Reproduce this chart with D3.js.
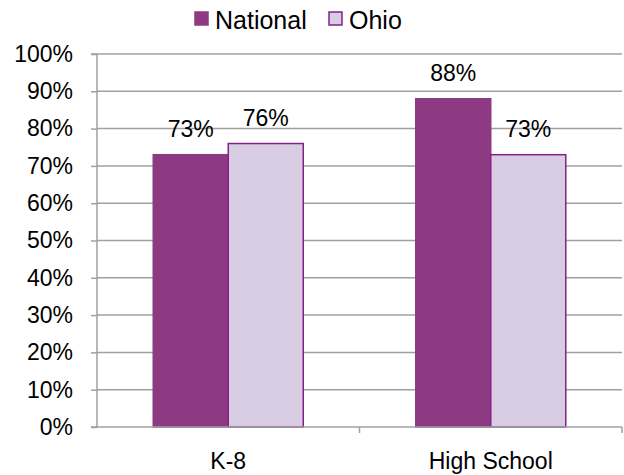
<!DOCTYPE html>
<html><head><meta charset="utf-8">
<script src="https://cdn.jsdelivr.net/npm/d3@7"></script>
<style>body{margin:0;background:#fff}svg{display:block}text{font-family:"Liberation Sans",Arial,sans-serif;fill:#000}</style>
</head><body><svg id="c" width="624" height="475"></svg>
<script>
const categories = ["K-8", "High School"];
const seriesNames = ["National", "Ohio"];
const national = [73, 88];
const ohio = [76, 73];
const yTicks = [0,10,20,30,40,50,60,70,80,90,100];

const svg = d3.select("#c");
const FONT = '"Liberation Sans",Arial,sans-serif';
const m = {l:97, r:622, t:54, b:427};
const x0 = d3.scaleBand().domain(categories).range([m.l, m.r]).paddingInner(0).paddingOuter(0);
const x1 = d3.scaleBand().domain(seriesNames).range([0, x0.bandwidth()]).paddingInner(0).paddingOuter(0.75);
const y = d3.scaleLinear().domain([0,100]).range([m.b, m.t]);
const fills = {National:"#8E3A82", Ohio:"#D7CCE1"};
const strokes = {National:"#8E3A82", Ohio:"#85208A"};
const gridCol = "#A0A0A0";

// gridlines
svg.append("g").selectAll("line").data(yTicks.filter(d=>d>0)).join("line")
  .attr("x1", m.l).attr("x2", m.r).attr("y1", d=>y(d)).attr("y2", d=>y(d))
  .attr("stroke", gridCol).attr("stroke-width", 1.5);

// y axis
const ya = svg.append("g").attr("transform", `translate(${m.l},0)`)
  .call(d3.axisLeft(y).tickValues(yTicks).tickFormat(d=>d+"%").tickSize(6).tickPadding(18));
ya.select(".domain").attr("stroke", gridCol).attr("stroke-width",1.5).attr("d", `M-6,${m.t}H0V${m.b}H-6`);
ya.selectAll(".tick line").attr("stroke", gridCol).attr("stroke-width",1.5);
ya.selectAll(".tick text").attr("font-size", 23).attr("font-family", FONT).attr("fill","#000");

// bars
const data = categories.map((c,i)=>({cat:c, vals:[{s:"National", v:national[i]},{s:"Ohio", v:ohio[i]}]}));
const g = svg.append("g").selectAll("g").data(data).join("g").attr("transform", d=>`translate(${x0(d.cat)},0)`);
g.selectAll("rect").data(d=>d.vals).join("rect")
  .attr("x", d=>x1(d.s)).attr("width", x1.bandwidth())
  .attr("y", d=>y(d.v)).attr("height", d=>y(0)-y(d.v))
  .attr("fill", d=>fills[d.s]).attr("stroke", d=>strokes[d.s]).attr("stroke-width", 1.5);
g.selectAll("text").data(d=>d.vals).join("text")
  .attr("x", d=>x1(d.s)+x1.bandwidth()/2).attr("y", d=>y(d.v)-18)
  .attr("text-anchor","middle").attr("font-size",23).text(d=>d.v+"%");

// x axis
const xa = svg.append("g").attr("transform", `translate(0,${m.b})`)
  .call(d3.axisBottom(x0).tickSize(0).tickPadding(26));
xa.select(".domain").remove();
xa.selectAll(".tick text").attr("font-size", 23).attr("font-family", FONT).attr("fill","#000");
svg.append("line").attr("x1", m.l).attr("x2", m.r).attr("y1", m.b).attr("y2", m.b).attr("stroke", gridCol).attr("stroke-width",1.5);
svg.append("g").selectAll("line").data(categories.map(c=>x0(c)+x0.bandwidth())).join("line")
  .attr("x1", d=>d).attr("x2", d=>d).attr("y1", m.b).attr("y2", m.b+6).attr("stroke", gridCol).attr("stroke-width",1.5);

// legend
const leg = svg.append("g");
const legItems = [{s:"National", x:195}, {s:"Ohio", x:329}];
legItems.forEach(it=>{
  leg.append("rect").attr("x", it.x).attr("y", 12).attr("width", 13).attr("height", 13)
    .attr("fill", fills[it.s]).attr("stroke", strokes[it.s]).attr("stroke-width", 1.5);
  leg.append("text").attr("x", it.x+20).attr("y", 29).attr("font-size", 25).text(it.s);
});
</script></body></html>
